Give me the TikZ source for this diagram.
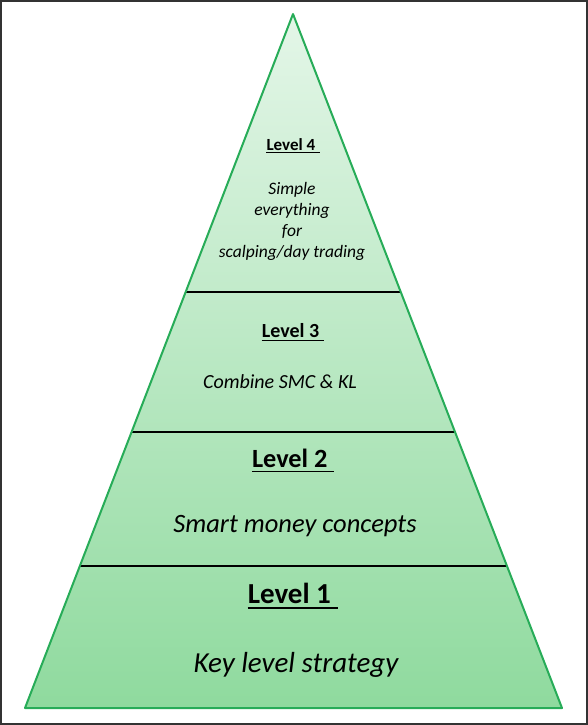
\documentclass[tikz,border=0pt]{standalone}
\usepackage{fontspec}
\setmainfont{Carlito}
\usetikzlibrary{calc}
\definecolor{edgegreen}{HTML}{27AC58}
\definecolor{lighttop}{HTML}{E4F6E8}
\definecolor{darkbottom}{HTML}{8FDA9E}
\definecolor{framegray}{HTML}{333333}
\tikzset{
  head/.style={inner sep=0pt, anchor=base, font=\bfseries},
  body/.style={inner sep=0pt, anchor=base, font=\itshape, align=center},
  divider/.style={black, line width=1.6pt},
}
\newcommand{\fs}[1]{\fontsize{#1}{#1}\selectfont}
\begin{document}
\begin{tikzpicture}[x=1pt, y=-1pt]
  \useasboundingbox (0,0) rectangle (588,725);
  \draw[framegray, line width=1.6pt] (0.8,0.8) rectangle (587.2,724.2);

  % pyramid corners
  \coordinate (apex) at (293,14);
  \coordinate (bl) at (25,708);
  \coordinate (br) at (562,708);

  \shade[top color=lighttop, bottom color=darkbottom] (apex) -- (br) -- (bl) -- cycle;

  % level dividers
  \foreach \t/\n in {0.4006/a, 0.6023/b, 0.7954/c} {
    \coordinate (l\n) at ($(apex)!\t!(bl)$);
    \coordinate (r\n) at ($(apex)!\t!(br)$);
  }
  \draw[divider] (la) -- (ra);
  \draw[divider] (lb) -- (rb);
  \draw[divider] (lc) -- (rc);

  \draw[edgegreen, line width=2pt, line join=round] (apex) -- (br) -- (bl) -- cycle;

  % Level 4 (multi-line body: base anchor sits on the last line)
  \node[head, font=\bfseries\fs{17}] (h4) at (293,150) {Level 4\kern0.25em};
  \draw[line width=1.2pt] ([yshift=-2.8pt]h4.base west) -- ([yshift=-2.8pt]h4.base east);
  \node[body, font=\itshape\fs{17.5}] (t4) at (292,257)
    {Simple\\[3.5pt] everything\\[3.5pt] for\\[3.5pt] scalping/day trading};

  % Level 3
  \node[head, font=\bfseries\fs{20}] (h3) at (293,337) {Level 3\kern0.25em};
  \draw[line width=1.4pt] ([yshift=-3.2pt]h3.base west) -- ([yshift=-3.2pt]h3.base east);
  \node[body, font=\itshape\fs{20}] (t3) at (280,388) {Combine SMC \& KL};

  % Level 2
  \node[head, font=\bfseries\fs{26.3}] (h2) at (293,467) {Level 2\kern0.25em};
  \draw[line width=1.8pt] ([yshift=-4.5pt]h2.base west) -- ([yshift=-4.5pt]h2.base east);
  \node[body, font=\itshape\fs{26.5}] (t2) at (295,532) {Smart money concepts};

  % Level 1
  \node[head, font=\bfseries\fs{29}] (h1) at (293,603) {Level 1\kern0.25em};
  \draw[line width=2pt] ([yshift=-5pt]h1.base west) -- ([yshift=-5pt]h1.base east);
  \node[body, font=\itshape\fs{29}] (t1) at (296,672) {Key level strategy};
\end{tikzpicture}
\end{document}
